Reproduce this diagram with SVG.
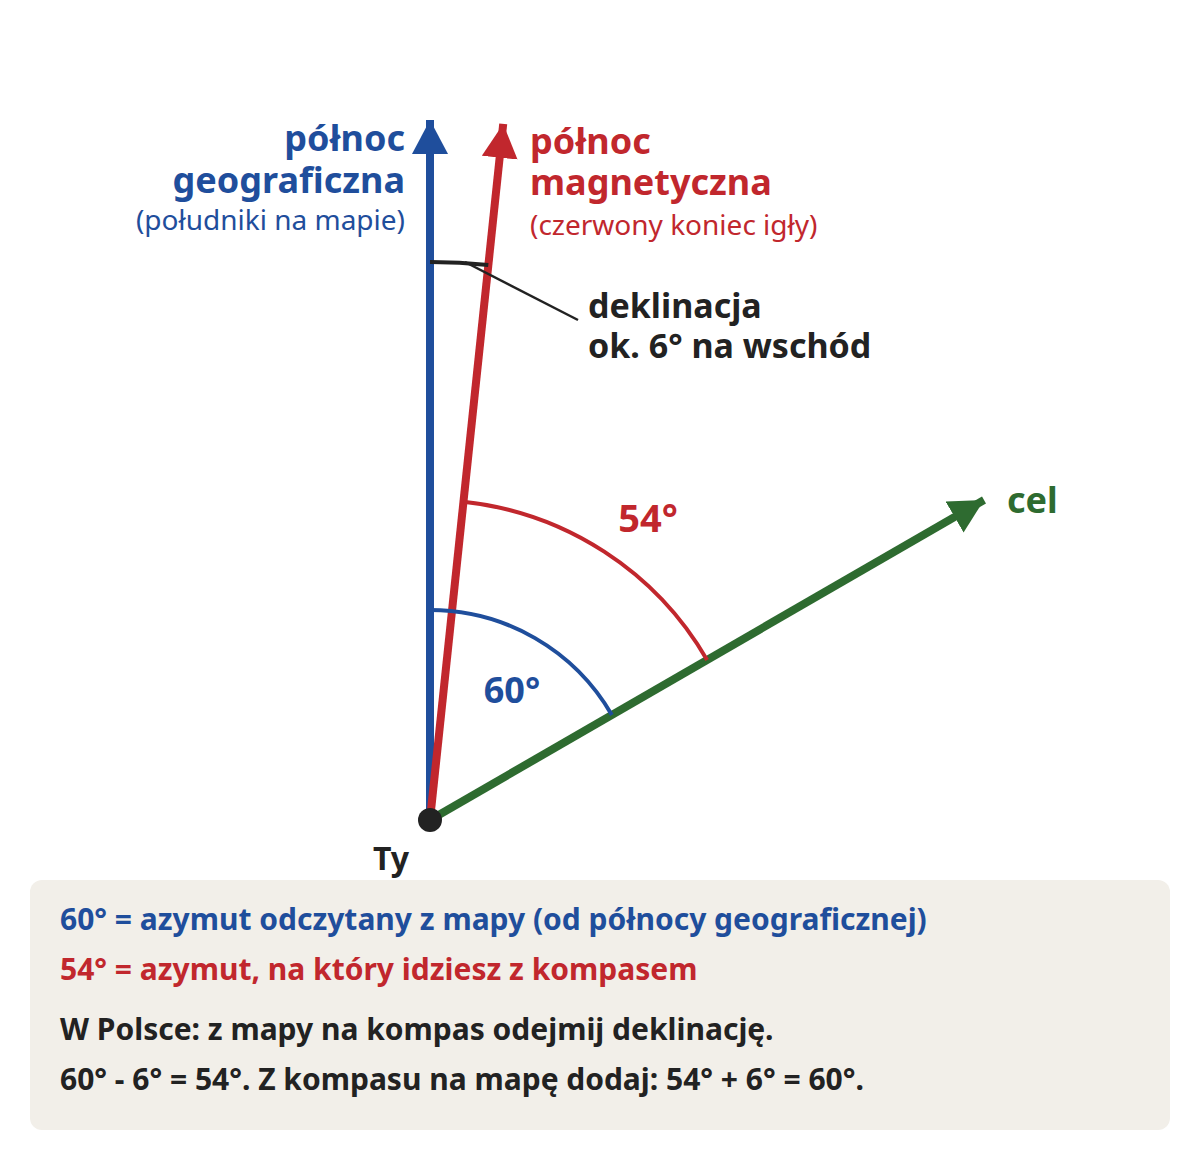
<svg xmlns="http://www.w3.org/2000/svg" width="1200" height="1150" viewBox="0 0 1200 1150">
<style>
text{font-family:"Noto Sans","Open Sans","DejaVu Sans",sans-serif;font-weight:bold}
.b{fill:#1f4e9c}.r{fill:#c1272d}.g{fill:#2e6b30}.k{fill:#222}
.big{font-size:36px}.sub{font-size:28px;font-weight:normal}
.dec{font-size:34px}
.note{font-size:30px}
</style>
<defs>
<marker id="ab" markerUnits="userSpaceOnUse" markerWidth="40" markerHeight="40" refX="34" refY="18" orient="auto"><path d="M0,0 L34,18 L0,36 Z" fill="#1f4e9c"/></marker>
<marker id="ar" markerUnits="userSpaceOnUse" markerWidth="40" markerHeight="40" refX="34" refY="18" orient="auto"><path d="M0,0 L34,18 L0,36 Z" fill="#c1272d"/></marker>
<marker id="ag" markerUnits="userSpaceOnUse" markerWidth="40" markerHeight="40" refX="34" refY="18" orient="auto"><path d="M0,0 L34,18 L0,36 Z" fill="#2e6b30"/></marker>
</defs>
<rect width="1200" height="1150" fill="#fff"/>
<g id="connectors" fill="none" stroke-width="8">
<line x1="430" y1="820" x2="430" y2="120" stroke="#1f4e9c" marker-end="url(#ab)"/>
<line x1="430" y1="820" x2="503.2" y2="123.9" stroke="#c1272d" marker-end="url(#ar)"/>
<line x1="430" y1="820" x2="984" y2="500" stroke="#2e6b30" marker-end="url(#ag)"/>
<path d="M430,610 A210,210 0 0 1 611.9,715" stroke="#1f4e9c" stroke-width="4"/>
<path d="M463.4,501.8 A320,320 0 0 1 707.1,660" stroke="#c1272d" stroke-width="4"/>
<path d="M430,262 A558,558 0 0 1 488.3,265" stroke="#222" stroke-width="4"/>
<line x1="465" y1="262" x2="578" y2="320" stroke="#222" stroke-width="2.5"/>
</g>
<g id="origin"><circle cx="430" cy="820" r="12" fill="#222"/><text x="391" y="870" class="k" font-size="32" text-anchor="middle">Ty</text></g>
<g id="geo-north" text-anchor="end">
<text x="405" y="151" class="b big">północ</text>
<text x="405" y="193" class="b big">geograficzna</text>
<text x="405" y="230" class="b sub">(południki na mapie)</text>
</g>
<g id="mag-north">
<text x="530" y="154" class="r big">północ</text>
<text x="530" y="195" class="r big">magnetyczna</text>
<text x="530" y="235" class="r sub">(czerwony koniec igły)</text>
</g>
<g id="declination">
<text x="588" y="318" class="k dec">deklinacja</text>
<text x="588" y="358" class="k dec">ok. 6° na wschód</text>
</g>
<g id="angle54"><text x="648" y="532" class="r" font-size="38" text-anchor="middle">54°</text></g>
<g id="angle60"><text x="512" y="703" class="b big" text-anchor="middle">60°</text></g>
<g id="target"><text x="1007" y="513" class="g big">cel</text></g>
<g id="legend">
<rect x="30" y="880" width="1140" height="250" rx="12" fill="#f2efe9"/>
<text x="60" y="930" class="b note">60° = azymut odczytany z mapy (od północy geograficznej)</text>
<text x="60" y="980" class="r note">54° = azymut, na który idziesz z kompasem</text>
<text x="60" y="1040" class="k note">W Polsce: z mapy na kompas odejmij deklinację.</text>
<text x="60" y="1090" class="k note">60° - 6° = 54°. Z kompasu na mapę dodaj: 54° + 6° = 60°.</text>
</g>
</svg>
